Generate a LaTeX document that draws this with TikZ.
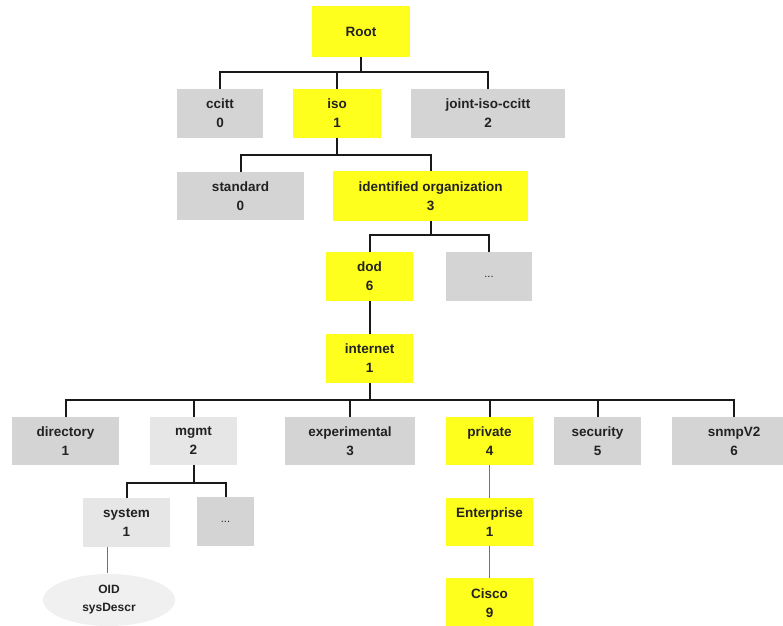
\documentclass[tikz,border=0pt]{standalone}
\usepackage{fontspec}
\setmainfont{Liberation Sans}
\usetikzlibrary{shapes.geometric}
\definecolor{oidyellow}{HTML}{FFFF1E}
\definecolor{oidgray}{HTML}{D4D4D4}
\definecolor{oidlight}{HTML}{E6E6E6}
\definecolor{oidtext}{HTML}{222222}
\tikzset{
  box/.style={inner sep=0pt, align=center, text=oidtext,
    font=\fontsize{13.5}{19}\selectfont\bfseries},
  ybox/.style={box, fill=oidyellow},
  gbox/.style={box, fill=oidgray},
  lbox/.style={box, fill=oidlight},
  conn/.style={draw=black!90, line width=2pt},
  thin conn/.style={draw=black!55, line width=0.8pt}
}
\begin{document}
\begin{tikzpicture}[x=1pt,y=-1pt]
  \useasboundingbox (0,0) rectangle (783,625);
  % top levels
  \node[ybox, minimum width=98pt, minimum height=51pt] (root) at (361,31.5) {Root};
  \node[gbox, minimum width=86pt, minimum height=49pt] (ccitt) at (220,113.5) {ccitt\\0};
  \node[ybox, minimum width=88pt, minimum height=49pt] (iso) at (337,113.5) {iso\\1};
  \node[gbox, minimum width=154pt, minimum height=49pt] (jic) at (488,113.5) {joint-iso-ccitt\\2};
  \node[gbox, minimum width=127pt, minimum height=48pt] (standard) at (240.5,196) {standard\\0};
  \node[ybox, minimum width=195pt, minimum height=50pt] (idorg) at (430.5,196) {identified organization\\3};
  \node[ybox, minimum width=87pt, minimum height=49pt] (dod) at (369.5,276.5) {dod\\6};
  \node[gbox, minimum width=86pt, minimum height=49pt, font=\fontsize{11}{12}\selectfont] (dots1) at (489,276.5) {...};
  \node[ybox, minimum width=87pt, minimum height=49pt] (internet) at (369.5,358.5) {internet\\1};
  % children of internet
  \node[gbox, minimum width=107pt, minimum height=48pt] (directory) at (65.5,441) {directory\\1};
  \node[lbox, minimum width=87pt, minimum height=48pt] (mgmt) at (193.5,441) {mgmt\\2};
  \node[gbox, minimum width=130pt, minimum height=48pt] (experimental) at (350,441) {experimental\\3};
  \node[ybox, minimum width=87pt, minimum height=48pt] (private) at (489.5,441) {private\\4};
  \node[gbox, minimum width=87pt, minimum height=48pt] (security) at (597.5,441) {security\\5};
  \node[gbox, minimum width=124pt, minimum height=48pt] (snmpv2) at (734,441) {snmpV2\\6};
  % below mgmt and private
  \node[lbox, minimum width=87pt, minimum height=49pt] (system) at (126.5,522.5) {system\\1};
  \node[gbox, minimum width=57pt, minimum height=49pt, font=\fontsize{11}{12}\selectfont] (dots2) at (225.5,521.5) {...};
  \node[ybox, minimum width=87pt, minimum height=48pt] (enterprise) at (489.5,522) {Enterprise\\1};
  \node[ybox, minimum width=87pt, minimum height=50pt] (cisco) at (489.5,603) {Cisco\\9};
  \node[ellipse, fill=black!6, inner sep=0pt, minimum width=132pt, minimum height=52pt,
    align=center, text=oidtext, font=\fontsize{12}{18}\selectfont\bfseries] (oid) at (109,600) {OID\\sysDescr};
  % bar levels
  \coordinate (j1) at (0,72);
  \coordinate (j2) at (0,155);
  \coordinate (j3) at (0,235);
  \coordinate (j4) at (0,400);
  \coordinate (j5) at (0,483);
  % connectors
  \draw[conn] (root.south) -- (root.south |- j1);
  \draw[conn] (ccitt.north) |- (jic.north |- j1) -- (jic.north);
  \draw[conn] (iso.north) -- (iso.north |- j1);
  \draw[conn] (iso.south) -- (iso.south |- j2);
  \draw[conn] (standard.north) |- (idorg.north |- j2) -- (idorg.north);
  \draw[conn] (idorg.south) -- (idorg.south |- j3);
  \draw[conn] (dod.north) |- (dots1.north |- j3) -- (dots1.north);
  \draw[conn] (dod) -- (internet);
  \draw[conn] (internet.south) -- (internet.south |- j4);
  \draw[conn] (directory.north) |- (snmpv2.north |- j4) -- (snmpv2.north);
  \foreach \n in {mgmt,experimental,private,security}{
    \draw[conn] (\n.north) -- (\n.north |- j4);
  }
  \draw[conn] (mgmt.south) -- (mgmt.south |- j5);
  \draw[conn] (system.north) |- (dots2.north |- j5) -- (dots2.north);
  \draw[thin conn] (private) -- (enterprise);
  \draw[thin conn] (enterprise) -- (cisco);
  \draw[thin conn] ([xshift=-19pt]system.south) -- ([xshift=-19pt]system.south |- 0,573);
\end{tikzpicture}
\end{document}
